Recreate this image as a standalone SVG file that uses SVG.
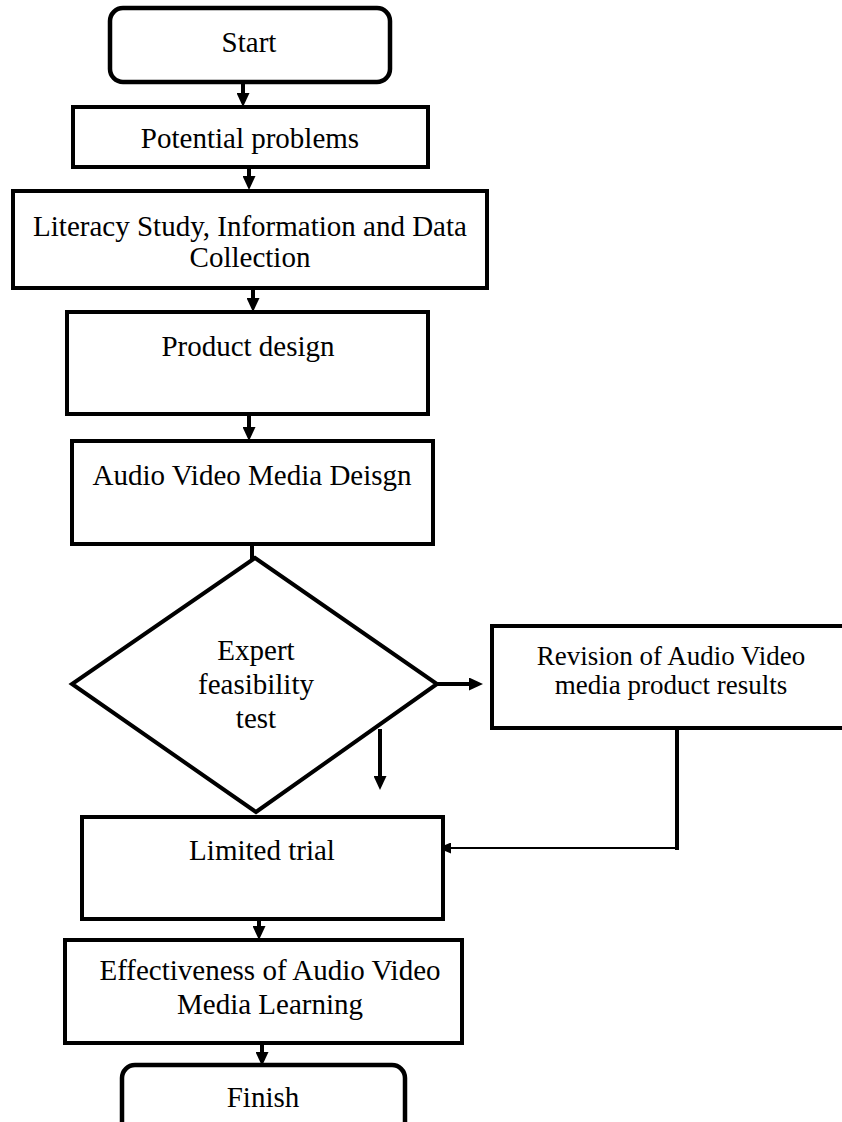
<svg xmlns="http://www.w3.org/2000/svg" width="842" height="1122" viewBox="0 0 842 1122">
<style>
.box{fill:#fff;stroke:#000;stroke-width:4;stroke-linejoin:miter}
.rbox{fill:#fff;stroke:#000;stroke-width:4.5}
.t{font-family:"Liberation Serif","Times New Roman",serif;font-size:29px;fill:#000;text-anchor:middle}
.ts{font-family:"Liberation Serif","Times New Roman",serif;font-size:27px;fill:#000;text-anchor:middle}
.c{fill:none;stroke:#000;stroke-width:4}
.cthin{fill:none;stroke:#000;stroke-width:2}
</style>
<defs>
<marker id="ah" viewBox="0 0 14 13" refX="6" refY="6.5" markerWidth="14" markerHeight="13" markerUnits="userSpaceOnUse" orient="auto">
<path d="M0,0 L14,6.5 L0,13 z" fill="#000"/>
</marker>
<marker id="ahs" viewBox="0 0 13 11" refX="5" refY="5.5" markerWidth="13" markerHeight="11" markerUnits="userSpaceOnUse" orient="auto">
<path d="M0,0 L13,5.5 L0,11 z" fill="#000"/>
</marker>
</defs>
<rect width="842" height="1122" fill="#fff"/>

<g id="connectors">
<line class="c" x1="243" y1="82" x2="243" y2="99" marker-end="url(#ah)"/>
<line class="c" x1="249" y1="167" x2="249" y2="182" marker-end="url(#ah)"/>
<line class="c" x1="253" y1="288" x2="253" y2="304" marker-end="url(#ah)"/>
<line class="c" x1="249" y1="414" x2="249" y2="433" marker-end="url(#ah)"/>
<line class="c" x1="252" y1="544" x2="252" y2="560"/>
<line class="c" x1="437" y1="684" x2="475" y2="684" marker-end="url(#ah)"/>
<line class="c" x1="380" y1="729" x2="380" y2="782" marker-end="url(#ah)"/>
<polyline class="c" points="677,727 677,850"/>
<line class="cthin" x1="677" y1="848" x2="446" y2="848" marker-end="url(#ahs)"/>
<line class="c" x1="259" y1="919" x2="259" y2="932" marker-end="url(#ah)"/>
<line class="c" x1="262" y1="1043" x2="262" y2="1058" marker-end="url(#ah)"/>
</g>

<g id="start">
<rect class="rbox" x="110" y="8" width="280" height="74" rx="13"/>
<text class="t" x="249" y="52">Start</text>
</g>

<g id="potential">
<rect class="box" x="73" y="107" width="355" height="60"/>
<text class="t" x="250" y="148">Potential problems</text>
</g>

<g id="literacy">
<rect class="box" x="13" y="191" width="474" height="97"/>
<text class="t" x="250" y="236">Literacy Study, Information and Data</text>
<text class="t" x="250" y="267">Collection</text>
</g>

<g id="product">
<rect class="box" x="67" y="312" width="361" height="102"/>
<text class="t" x="248" y="356">Product design</text>
</g>

<g id="audio">
<rect class="box" x="72" y="441" width="361" height="103"/>
<text class="t" x="252" y="485">Audio Video Media Deisgn</text>
</g>

<g id="expert">
<polygon class="box" points="255,558 437,684 256,812 72,684"/>
<text class="t" x="256" y="660">Expert</text>
<text class="t" x="256" y="694">feasibility</text>
<text class="t" x="256" y="728">test</text>
</g>

<g id="revision">
<rect class="box" x="492" y="626" width="360" height="102"/>
<text class="ts" x="671" y="665">Revision of Audio Video</text>
<text class="ts" x="671" y="694">media product results</text>
</g>

<g id="limited">
<rect class="box" x="82" y="817" width="361" height="102"/>
<text class="t" x="262" y="860">Limited trial</text>
</g>

<g id="effectiveness">
<rect class="box" x="65" y="940" width="397" height="103"/>
<text class="t" x="270" y="980">Effectiveness of Audio Video</text>
<text class="t" x="270" y="1014">Media Learning</text>
</g>

<g id="finish">
<rect class="rbox" x="122" y="1065" width="283" height="80" rx="13"/>
<text class="t" x="263" y="1107">Finish</text>
</g>
</svg>
